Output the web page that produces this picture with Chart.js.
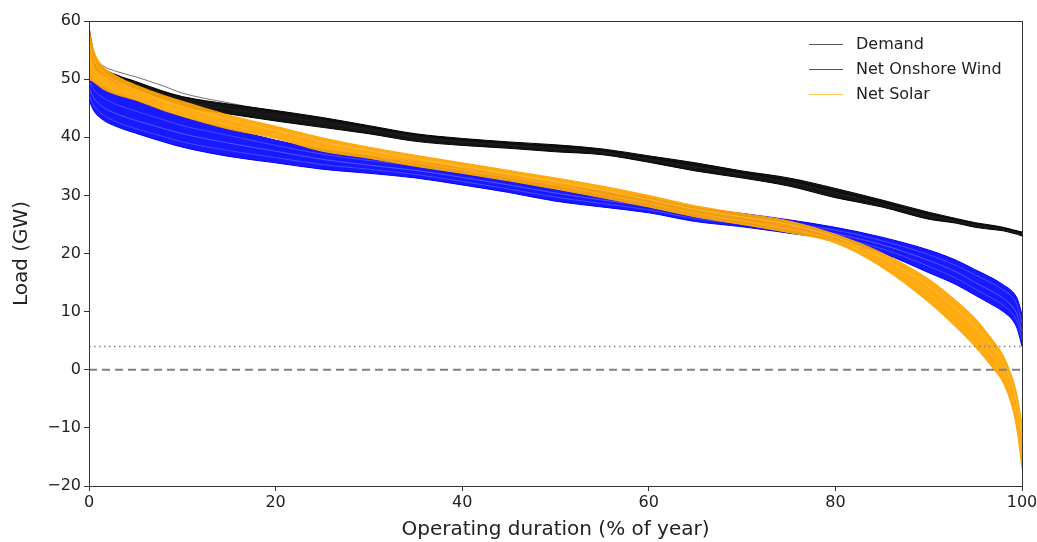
<!DOCTYPE html>
<html lang="en">
<head>
<meta charset="UTF-8">
<title>Load duration curves</title>
<style>
  body {
    margin: 0;
    background: #fff;
  }
  .wrap {
    width: 1037px;
    height: 542px;
  }
</style>
</head>
<body>
<div class="wrap"><canvas id="chart"></canvas></div>

<script src="https://cdn.jsdelivr.net/npm/chart.js"></script>
<script>
const durationPct = [0, 0.5, 1.5, 3, 5, 8, 10, 15, 20, 25, 30, 35, 40, 45, 50, 55, 60, 65, 70, 75, 80, 85, 90, 93, 95, 97, 98, 99, 99.5, 100];

// Demand (GW)
const demandHigh    = [59.0, 54.5, 52.0, 50.7, 49.6, 47.9, 47.0, 45.7, 44.6, 43.4, 42.0, 40.6, 39.8, 39.2, 38.7, 38.0, 36.8, 35.6, 34.2, 33.0, 31.2, 29.2, 27.1, 26.0, 25.3, 24.8, 24.5, 24.1, 23.9, 23.7];
const demandOutlier = [58.0, 54.0, 52.3, 51.3, 50.4, 48.8, 47.6, 45.9, 44.4, 43.2, 41.8, 40.5, 39.6, 39.0, 38.4, 37.7, 36.5, 35.2, 33.9, 32.6, 30.8, 28.8, 26.8, 25.8, 25.1, 24.6, 24.3, 23.9, 23.7, 23.5];
const demandMid     = [57.5, 53.5, 51.4, 50.0, 48.9, 47.2, 46.2, 44.8, 43.7, 42.5, 41.3, 40.0, 39.2, 38.6, 38.1, 37.5, 36.2, 34.9, 33.6, 32.3, 30.4, 28.6, 26.5, 25.6, 24.9, 24.5, 24.2, 23.8, 23.6, 23.3];
const demandLow     = [56.0, 52.5, 50.8, 49.4, 48.3, 46.5, 45.3, 44.0, 42.8, 41.7, 40.6, 39.3, 38.6, 38.1, 37.5, 37.0, 35.7, 34.2, 33.0, 31.6, 29.6, 28.0, 25.9, 25.2, 24.5, 24.1, 23.9, 23.5, 23.3, 23.0];

// Net onshore wind (GW)
const windHigh = [50.5, 49.6, 48.6, 47.5, 46.3, 44.6, 43.5, 41.5, 39.5, 37.9, 36.8, 35.8, 34.6, 33.3, 31.9, 30.7, 29.6, 27.9, 26.9, 25.8, 24.5, 22.8, 20.6, 18.8, 17.2, 15.6, 14.6, 13.4, 12.2, 9.5];
const windA    = [49.8, 48.2, 46.8, 45.6, 44.5, 43.0, 42.0, 40.3, 38.6, 37.1, 36.0, 35.1, 33.9, 32.6, 31.2, 30.0, 28.9, 27.2, 26.3, 25.2, 24.0, 22.2, 19.8, 17.9, 16.3, 14.7, 13.7, 12.4, 11.0, 8.0];
const windB    = [48.5, 46.8, 45.2, 44.0, 42.9, 41.5, 40.6, 39.0, 37.6, 36.2, 35.2, 34.3, 33.1, 31.8, 30.4, 29.2, 28.1, 26.5, 25.6, 24.6, 23.4, 21.5, 18.8, 16.8, 15.0, 13.3, 12.3, 10.8, 9.4, 6.5];
const windC    = [47.3, 45.5, 43.9, 42.6, 41.5, 40.1, 39.2, 37.7, 36.5, 35.3, 34.5, 33.6, 32.4, 31.1, 29.7, 28.6, 27.5, 26.0, 25.1, 24.0, 22.8, 20.8, 17.8, 15.7, 13.9, 12.1, 11.1, 9.6, 8.2, 5.2];
const windLow  = [46.4, 44.6, 43.0, 41.8, 40.7, 39.2, 38.3, 36.7, 35.6, 34.5, 33.8, 33.0, 31.8, 30.5, 29.0, 28.0, 27.0, 25.5, 24.6, 23.5, 22.3, 20.1, 16.7, 14.6, 12.8, 11.0, 10.0, 8.5, 7.0, 4.0];

// Net solar (GW)
const solarHigh = [58.5, 55.0, 52.2, 50.5, 49.0, 47.2, 46.2, 43.8, 41.9, 39.9, 38.3, 36.9, 35.6, 34.3, 33.0, 31.6, 30.0, 28.2, 26.9, 25.6, 23.3, 20.1, 15.6, 11.8, 8.8, 4.8, 2.4, -1.6, -4.6, -9.5];
const solarA    = [56.5, 53.5, 51.2, 49.6, 48.2, 46.3, 45.3, 43.0, 41.2, 39.2, 37.7, 36.3, 35.0, 33.7, 32.4, 30.9, 29.3, 27.6, 26.3, 25.0, 22.8, 19.3, 14.4, 10.4, 7.4, 3.6, 1.2, -2.9, -6.2, -11.5];
const solarB    = [53.5, 51.5, 49.8, 48.4, 47.2, 45.4, 44.4, 42.1, 40.4, 38.3, 37.0, 35.6, 34.4, 33.1, 31.8, 30.2, 28.6, 26.9, 25.6, 24.2, 22.3, 18.4, 13.0, 8.8, 5.7, 1.9, -0.5, -4.8, -8.5, -14.0];
const solarLow  = [50.0, 49.5, 48.3, 47.3, 46.4, 44.6, 43.6, 41.4, 39.8, 37.6, 36.4, 35.0, 33.8, 32.5, 31.1, 29.6, 28.0, 26.3, 25.0, 23.6, 21.8, 17.6, 11.6, 7.2, 3.9, 0.0, -2.3, -6.8, -10.8, -17.0];

// horizontal reference levels (GW)
const dottedLevel = [4, 4];
const dashedLevel = [0, 0];
const levelRange = [0, 100];

const legendNames = ['Demand', 'Net Onshore Wind', 'Net Solar'];
const legendColors = ['#555555', '#3c3cff', '#ffc857'];

function pts(values) {
  return values.map((v, i) => ({ x: durationPct[i], y: v }));
}

function curve(values, color, width, fill) {
  return {
    data: pts(values),
    borderColor: color,
    borderWidth: width,
    pointRadius: 0,
    cubicInterpolationMode: 'monotone',
    fill: fill === undefined ? false : fill.target,
    backgroundColor: fill ? fill.color : 'transparent'
  };
}

function level(values, dash, width) {
  return {
    data: values.map((v, i) => ({ x: levelRange[i], y: v })),
    borderColor: '#808080',
    borderWidth: width,
    borderDash: dash,
    pointRadius: 0,
    fill: false
  };
}

// Chart.js draws dataset 0 last, so the list runs from top layer to bottom layer
const datasets = [
  level(dottedLevel, [1.5, 3.5], 1.5),
  level(dashedLevel, [8, 5], 2),
  curve(solarA, '#ffc04d', 0.8),
  curve(solarB, '#ffb22e', 0.8),
  curve(solarHigh, '#ffa500', 1),
  null, // solarLow, filled up to solarHigh
  curve(windA, '#5c5cff', 0.7),
  curve(windB, '#6e6eff', 0.7),
  curve(windC, '#5c5cff', 0.7),
  curve(windHigh, '#0000ff', 1),
  null, // windLow
  curve(demandOutlier, 'rgba(0,0,0,0.7)', 0.8),
  curve(demandMid, '#222', 0.8),
  curve(demandHigh, '#000', 1),
  null  // demandLow
];
datasets[5] = curve(solarLow, '#ffa500', 1, { target: 4, color: 'rgba(255,165,0,0.94)' });
datasets[10] = curve(windLow, '#0000ff', 1, { target: 9, color: 'rgba(0,0,255,0.9)' });
datasets[14] = curve(demandLow, '#000', 1, { target: 13, color: 'rgba(0,0,0,0.92)' });

const cornerLegend = {
  id: 'cornerLegend',
  afterDraw(chart) {
    const ctx = chart.ctx;
    const area = chart.chartArea;
    ctx.save();
    // full box around the plot
    ctx.strokeStyle = '#333';
    ctx.lineWidth = 1;
    ctx.strokeRect(Math.round(area.left) + 0.5, Math.round(area.top) + 0.5,
      Math.round(area.right - area.left), Math.round(area.bottom - area.top));
    ctx.font = '16px "DejaVu Sans"';
    ctx.textBaseline = 'middle';
    legendNames.forEach((name, i) => {
      const y = area.top + 23.5 + i * 25;
      const x0 = area.right - 213;
      ctx.strokeStyle = legendColors[i];
      ctx.lineWidth = 1;
      ctx.beginPath();
      ctx.moveTo(x0, y);
      ctx.lineTo(x0 + 34, y);
      ctx.stroke();
      ctx.fillStyle = '#222';
      ctx.fillText(name, x0 + 47, y);
    });
    ctx.restore();
  }
};

const tickFont = { family: 'DejaVu Sans', size: 16 };
const titleFont = { family: 'DejaVu Sans', size: 20 };

new Chart(document.getElementById('chart'), {
  type: 'line',
  data: { datasets },
  options: {
    responsive: true,
    maintainAspectRatio: false,
    animation: false,
    layout: { padding: { top: 21, right: 15, left: 0, bottom: 0 } },
    plugins: {
      legend: { display: false },
      tooltip: { enabled: false }
    },
    scales: {
      x: {
        type: 'linear',
        min: 0,
        max: 100,
        afterFit: (s) => { s.height = 56; s.paddingRight = 0; },
        ticks: { stepSize: 20, color: '#222', font: tickFont, padding: 2, maxRotation: 0 },
        grid: { drawOnChartArea: false, drawTicks: true, tickLength: 5, tickColor: '#333' },
        border: { color: '#333', width: 1 },
        title: { display: true, text: 'Operating duration (% of year)', color: '#222', font: titleFont, padding: { top: 0, bottom: 0 } }
      },
      y: {
        min: -20,
        max: 60,
        afterFit: (s) => { s.width = 89; },
        ticks: {
          stepSize: 10,
          color: '#222',
          font: tickFont,
          padding: 3,
          callback: (v) => String(v).replace('-', '\u2212')
        },
        grid: { drawOnChartArea: false, drawTicks: true, tickLength: 5, tickColor: '#333' },
        border: { color: '#333', width: 1 },
        title: { display: true, text: 'Load (GW)', color: '#222', font: titleFont, padding: { top: 10, bottom: 0 } }
      }
    }
  },
  plugins: [cornerLegend]
});
</script>
</body>
</html>
